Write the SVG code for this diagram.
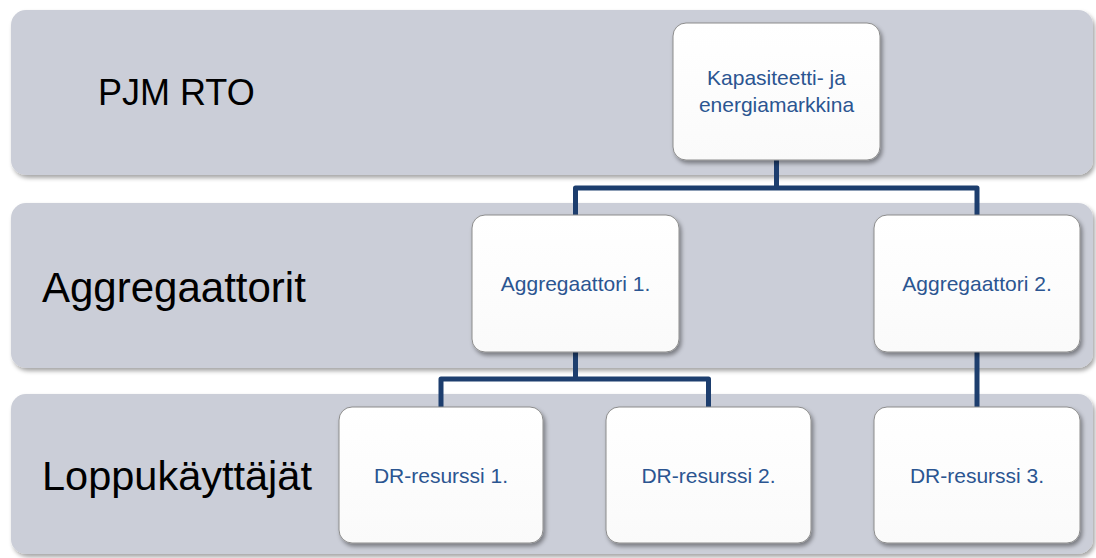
<svg xmlns="http://www.w3.org/2000/svg" width="1096" height="558" viewBox="0 0 1096 558">
<defs>
<filter id="bsh" x="-5%" y="-10%" width="110%" height="125%">
<feDropShadow dx="2" dy="3" stdDeviation="2" flood-color="#000" flood-opacity="0.35"/>
</filter>
<filter id="nsh" x="-10%" y="-10%" width="125%" height="125%">
<feDropShadow dx="2" dy="3" stdDeviation="2" flood-color="#000" flood-opacity="0.4"/>
</filter>
<linearGradient id="ng" x1="0" y1="0" x2="0" y2="1">
<stop offset="0" stop-color="#ffffff"/>
<stop offset="1" stop-color="#fafafa"/>
</linearGradient>
</defs>
<style>
.band{fill:#cbced8;filter:url(#bsh)}
.node{fill:url(#ng);stroke:#8c8c8c;stroke-width:1;filter:url(#nsh)}
.lbl{font-family:"Liberation Sans",Arial,sans-serif;fill:#000;text-anchor:start}
.nt{font-family:"Liberation Sans",Arial,sans-serif;font-size:21px;fill:#2b5591;text-anchor:middle}
.conn{fill:none;stroke:#1d3e6e;stroke-width:5;stroke-linejoin:round}
</style>
<rect width="1096" height="558" fill="#ffffff"/>
<g id="bands">
<g id="band-pjm"><rect class="band" x="11" y="10" width="1082" height="165" rx="15"/><text class="lbl" x="98" y="105" font-size="36">PJM RTO</text></g>
<g id="band-agg"><rect class="band" x="11" y="203" width="1082" height="165" rx="15"/><text class="lbl" x="42" y="302" font-size="42">Aggregaattorit</text></g>
<g id="band-end"><rect class="band" x="11" y="394" width="1082" height="160" rx="15"/><text class="lbl" x="42" y="490" font-size="41.5">Loppukäyttäjät</text></g>
</g>
<g id="connectors">
<path class="conn" d="M776.5 160 V188 H575.5 V215 M776.5 188 H977 V215"/>
<path class="conn" d="M575.5 352 V379 H441 V407 M575.5 379 H708.5 V407"/>
<path class="conn" d="M977 352 V407"/>
</g>
<g id="node-market"><rect class="node" x="673" y="23" width="207" height="137" rx="13"/><text class="nt" x="776.5" y="85">Kapasiteetti- ja</text><text class="nt" x="776.5" y="112">energiamarkkina</text></g>
<g id="node-agg1"><rect class="node" x="472" y="215" width="207" height="137" rx="13"/><text class="nt" x="575.5" y="291">Aggregaattori 1.</text></g>
<g id="node-agg2"><rect class="node" x="874" y="215" width="206" height="137" rx="13"/><text class="nt" x="977" y="291">Aggregaattori 2.</text></g>
<g id="node-dr1"><rect class="node" x="339" y="407" width="204" height="136" rx="13"/><text class="nt" x="441" y="483">DR-resurssi 1.</text></g>
<g id="node-dr2"><rect class="node" x="606" y="407" width="205" height="136" rx="13"/><text class="nt" x="708.5" y="483">DR-resurssi 2.</text></g>
<g id="node-dr3"><rect class="node" x="874" y="407" width="206" height="136" rx="13"/><text class="nt" x="977" y="483">DR-resurssi 3.</text></g>
</svg>
